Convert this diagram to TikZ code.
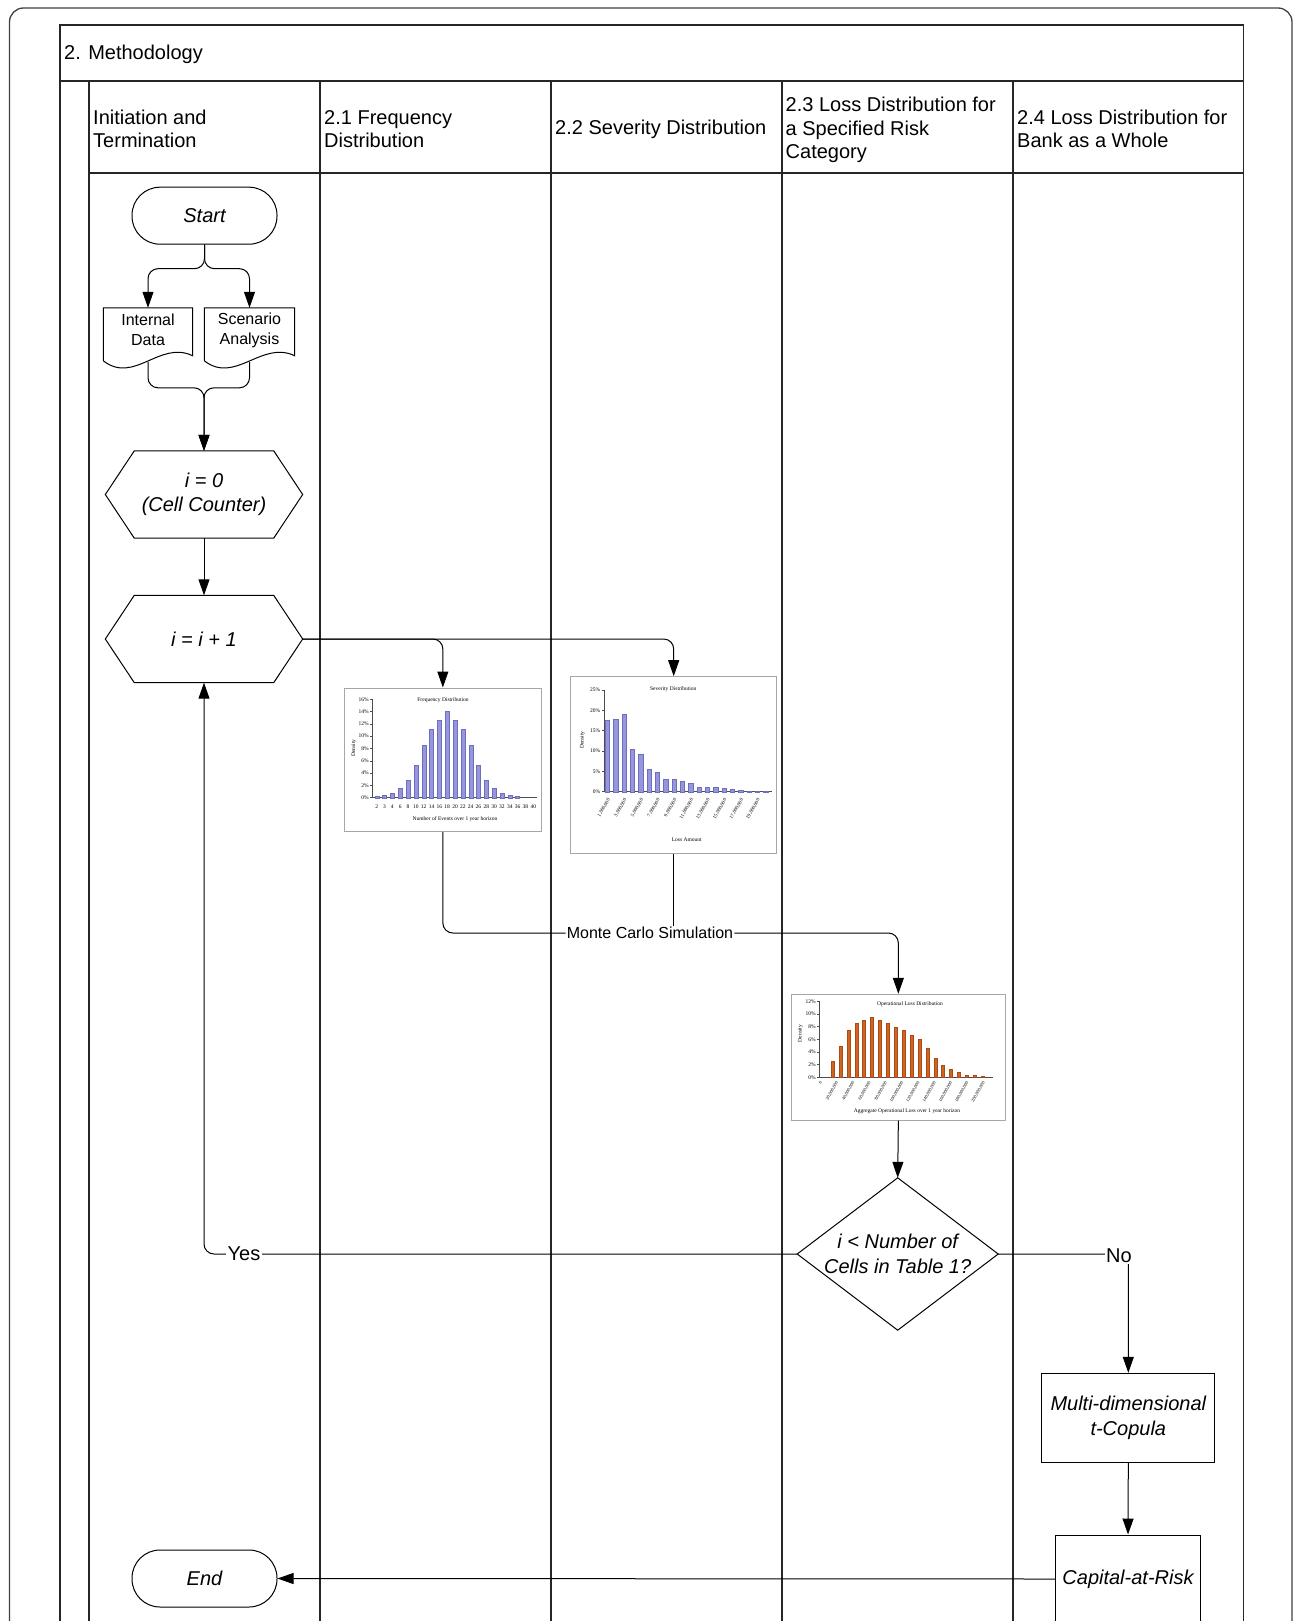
\documentclass[tikz,border=0pt]{standalone}
\usepackage{fontspec}
\setmainfont{Liberation Sans}
\newfontfamily\chartfont{Liberation Serif}
\usetikzlibrary{arrows.meta,calc}
\tikzset{
 lane/.style={draw=black!85, line width=1.3pt},
 hdr/.style={font=\fontsize{20}{23.3}\selectfont, anchor=west, align=left, inner sep=0pt},
 term/.style={draw, line width=1pt, rounded corners=28pt, minimum width=145pt, minimum height=57pt, inner sep=0pt, font=\fontsize{20}{24}\selectfont\itshape, fill=white},
 proc/.style={draw, line width=1pt, fill=white, font=\fontsize{20}{25}\selectfont\itshape, align=center, inner sep=0pt},
 docn/.style={minimum width=89pt, minimum height=54pt, inner sep=0pt},
 doctext/.style={font=\fontsize{16}{20}\selectfont, align=center, inner sep=0pt},
 hexn/.style={font=\fontsize{20}{23.7}\selectfont\itshape, align=center, minimum width=197pt, minimum height=87pt, inner sep=0pt},
 diam/.style={font=\fontsize{20}{24.8}\selectfont\itshape, align=center, minimum width=200.6pt, minimum height=152pt, inner sep=0pt},
 wire/.style={line width=1pt, draw=black},
 conn/.style={wire, -{Triangle[length=16pt,width=11pt]}},
 lbl/.style={fill=white, inner sep=1.5pt, font=\fontsize{20}{24}\selectfont},
 chart/.style={draw=black!35, line width=1pt, fill=white, inner sep=0pt},
 ctext/.style={font=\chartfont\fontsize{5.5}{6.5}\selectfont, inner sep=0pt},
 rtext/.style={font=\chartfont\fontsize{4.5}{5}\selectfont, inner sep=0pt, anchor=east, rotate=60},
 cax/.style={draw=black!70, line width=0.5pt},
 pbar/.style={fill={rgb,255:red,150;green,150;blue,220}, draw={rgb,255:red,110;green,110;blue,190}, line width=0.3pt},
 obar/.style={fill={rgb,255:red,210;green,100;blue,35}, draw={rgb,255:red,170;green,75;blue,20}, line width=0.3pt},
}
\begin{document}
\begin{tikzpicture}[x=1pt,y=-1pt]
\useasboundingbox (0,0) rectangle (1295,1621);
\clip (0,0) rectangle (1295,1621);
% frames
\draw[draw=black!75, line width=1.3pt, rounded corners=14pt] (9.5,1650) -- (9.5,8) -- (1292,8) -- (1292,1650);
\draw[lane] (60,1650) -- (60,25) -- (1243.5,25) -- (1243.5,1650);
\draw[lane, line width=2pt] (60,81) -- (1243.5,81);
\draw[lane] (89,81) -- (89,1650);
\draw[lane] (89,173) -- (1243.5,173);
\foreach \x in {320,551,782,1013} \draw[lane] (\x,81) -- (\x,1650);
% headers
\node[hdr] (ttl) at (64,54.5) {2. Methodology};
\node[hdr] (h0) at (93,129) {Initiation and\\Termination};
\node[hdr] (h1) at (324,129) {2.1 Frequency\\Distribution};
\node[hdr] (h2) at (555,129) {2.2 Severity Distribution};
\node[hdr] (h3) at (785.5,130) {2.3 Loss Distribution for\\a Specified Risk\\Category};
\node[hdr] (h4) at (1017,129) {2.4 Loss Distribution for\\Bank as a Whole};
% nodes
\node[term] (start) at (204.5,215.7) {Start};
\node[docn] (intd) at (148,335) {};
\node[docn, minimum width=90pt] (scen) at (249.5,335) {};
\node[doctext] (intdt) at (148,330) {Internal\\Data};
\node[doctext] (scent) at (249.5,330) {Scenario\\Analysis};
\node[hexn] (init) at (204,494.5) {i = 0\\(Cell Counter)};
\node[hexn] (inc) at (204,639) {i = i + 1};
\node[chart, minimum width=197.7pt, minimum height=143.7pt] (freq) at (442.85,759.85) {};
\node[chart, minimum width=206pt, minimum height=176.6pt] (sev) at (673.7,765) {};
\node[chart, minimum width=213.3pt, minimum height=125.7pt] (loss) at (898.35,1057.15) {};
\node[diam] (dec) at (897.7,1254) {i < Number of\\Cells in Table 1?};
\node[proc, minimum width=173.3pt, minimum height=89.4pt] (cop) at (1128.3,1418) {Multi-dimensional\\t-Copula};
\node[proc, minimum width=145pt, minimum height=88pt] (car) at (1128,1579) {Capital-at-Risk};
\node[term] (end) at (204.5,1578.5) {End};
% shapes
\foreach \n in {init,inc}
  \draw[wire] (\n.west) -- ($(\n.north west)+(29,0)$) -- ($(\n.north east)+(-29,0)$) -- (\n.east) -- ($(\n.south east)+(-29,0)$) -- ($(\n.south west)+(29,0)$) -- cycle;
\draw[wire] (dec.north) -- (dec.east) -- (dec.south) -- (dec.west) -- cycle;
\foreach \n in {intd,scen}
  \draw[wire] ($(\n.north west)+(0,53)$) -- (\n.north west) -- (\n.north east) -- ($(\n.north east)+(0,48)$) .. controls ($(\n.north east)+(-33,32)$) and ($(\n.north west)+(31,77)$) .. ($(\n.north west)+(0,53)$);
% frequency chart
\draw[cax] (372.3,699.3) -- (372.3,797.7) -- (537.3,797.7);
\foreach \val [count=\k from 0] in {0,2,...,16} {
  \draw[cax] (370.3,{797.7-6.15*\val}) -- (372.3,{797.7-6.15*\val});
  \node[ctext, anchor=east] (fy\k) at (369,{797.7-6.15*\val}) {\val\%};
}
\foreach \h [count=\k from 0] in {0.2,0.4,0.8,1.6,2.9,5.3,8.5,11.2,12.6,14,12.6,11.2,8.5,5.3,2.9,1.6,0.8,0.4,0.2}
  \path[pbar] ({374.7+7.83*\k},797.7) rectangle ++(4,{-6.15*\h});
\foreach \l [count=\k from 0] in {2,3,4,6,8,10,12,14,16,18,20,22,24,26,28,30,32,34,36,38,40}
  \node[ctext] (fx\k) at ({376.7+7.83*\k},807) {\l};
\node[ctext] (ft) at (443,700) {Frequency Distribution};
\node[ctext, rotate=90] (fd) at (354,748) {Density};
\node[ctext] (fxt) at (455,819.5) {Number of Events over 1 year horizon};
% severity chart
\draw[cax] (604,690) -- (604,791.7) -- (771.7,791.7);
\foreach \val [count=\k from 0] in {0,5,...,25} {
  \draw[cax] (602,{791.7-4.07*\val}) -- (604,{791.7-4.07*\val});
  \node[ctext, anchor=east] (sy\k) at (600.5,{791.7-4.07*\val}) {\val\%};
}
\foreach \h [count=\k from 0] in {17.5,17.8,19,10.5,9.3,5.5,4.8,3.2,3.0,2.6,2.0,1.2,1.1,1.1,0.9,0.7,0.5,0.25,0.2,0.1}
  \path[pbar] ({605.1+8.33*\k},791.7) rectangle ++(4.4,{-4.07*\h});
\foreach \l [count=\k from 0] in {1,3,...,19}
  \node[rtext, font=\chartfont\fontsize{5}{6}\selectfont] (sx\k) at ({609+16.66*\k},799) {\l,000,000};
\node[ctext] (st) at (673.3,689) {Severity Distribution};
\node[ctext, rotate=90] (sd) at (582.3,740) {Density};
\node[ctext] (sxt) at (686.7,839.3) {Loss Amount};
% loss chart
\draw[cax] (819.3,1001.4) -- (819.3,1077.3) -- (993,1077.3);
\foreach \val [count=\k from 0] in {0,2,...,12} {
  \draw[cax] (817.3,{1077.3-6.33*\val}) -- (819.3,{1077.3-6.33*\val});
  \node[ctext, anchor=east] (ly\k) at (816,{1077.3-6.33*\val}) {\val\%};
}
\foreach \h [count=\k from 0] in {2.5,5,7.5,8.6,9.1,9.5,9.1,8.6,8,7.5,6.6,6,4.6,3.1,1.9,1.3,0.8,0.4,0.3,0.2}
  \path[obar] ({831+7.9*\k},1077.3) rectangle ++(3,{-6.33*\h});
\node[rtext] (lx0) at (821,1082) {0};
\foreach \l [count=\k from 1] in {20,40,60,80,100,120,140,160,180,200}
  \node[rtext] (lx\k) at ({821+16.3*\k},1082) {\l,000,000};
\node[ctext] (lt) at (910,1004.5) {Operational Loss Distribution};
\node[ctext, rotate=90] (ld) at (800.5,1033.5) {Density};
\node[ctext] (lxt) at (907,1111) {Aggregate Operational Loss over 1 year horizon};
% connectors
\draw[conn, rounded corners=10pt] (start.south) -- ++(0,24) -| (intd.north);
\draw[conn, rounded corners=10pt] (start.south) -- ++(0,24) -| (scen.north);
\draw[conn, rounded corners=10pt] (intd.south) |- ($(init.north)+(0,-63)$) -- (init.north);
\draw[conn, rounded corners=10pt] (scen.south) |- ($(init.north)+(0,-63)$) -- (init.north);
\draw[conn] (init.south) -- (inc.north);
\draw[conn, rounded corners=10pt] (inc.east) -| (freq.north);
\draw[conn, rounded corners=10pt] (inc.east) -| (sev.north);
\node[lbl, font=\fontsize{16}{19}\selectfont, inner sep=1pt] (mc) at (650,933) {Monte Carlo Simulation};
\draw[wire, rounded corners=10pt] (freq.south) |- (mc.west);
\draw[wire] (sev.south) -- (sev.south |- mc.north);
\draw[conn, rounded corners=10pt] (mc.east) -| (loss.north);
\draw[conn] (loss.south) -- (dec.north);
\draw[conn, rounded corners=10pt] (dec.west) -| (inc.south);
\node[lbl] (yes) at (244,1254) {Yes};
\draw[conn, rounded corners=10pt] (dec.east) -| (cop.north);
\node[lbl] (no) at (1119,1256) {No};
\draw[conn] (cop.south) -- (car.north);
\draw[conn] (car.west) -- (end.east);
\end{tikzpicture}
\end{document}
